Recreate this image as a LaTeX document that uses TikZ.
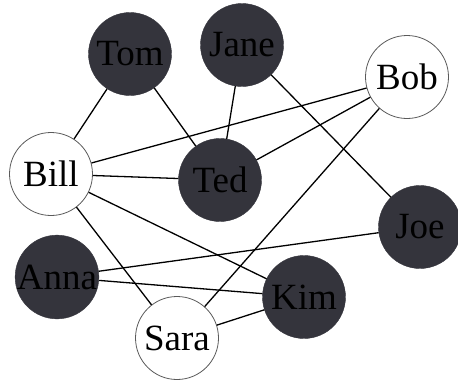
\documentclass[tikz,border=0pt]{standalone}
\usepackage{fontspec}
\setmainfont{Liberation Serif}
\definecolor{nodedark}{RGB}{52,52,60}
\definecolor{rimgrey}{RGB}{90,90,90}
\begin{document}
\begin{tikzpicture}[x=1pt,y=-1pt,
  person/.style={circle,minimum size=83pt,inner sep=0pt,font=\fontsize{37}{37}\selectfont},
  darkperson/.style={person,fill=nodedark,draw=nodedark},
  lightperson/.style={person,fill=white,draw=rimgrey,line width=0.8pt},
  tie/.style={line width=1.3pt,black}]
\useasboundingbox (0,0) rectangle (458,381);
% people
\node[darkperson]  (tom)  at (130,54)  {Tom};
\node[darkperson]  (jane) at (242,45)  {Jane};
\node[lightperson] (bob)  at (407,77)  {Bob};
\node[lightperson] (bill) at (51,174)  {Bill};
\node[darkperson]  (ted)  at (220,180) {Ted};
\node[darkperson]  (joe)  at (420,227) {Joe};
\node[darkperson]  (anna) at (57,277)  {Anna};
\node[darkperson]  (kim)  at (304,297) {Kim};
\node[lightperson] (sara) at (177,338) {Sara};
% ties between people
\draw[tie] (tom) -- (bill);
\draw[tie] (tom) -- (ted);
\draw[tie] (jane) -- (ted);
\draw[tie] (jane) -- (joe);
\draw[tie] (bob) -- (bill);
\draw[tie] (bob) -- (ted);
\draw[tie] (bob) -- (sara);
\draw[tie] (bill) -- (ted);
\draw[tie] (bill) -- (kim);
\draw[tie] (bill) -- (sara);
\draw[tie] (anna) -- (joe);
\draw[tie] (anna) -- (kim);
\draw[tie] (sara) -- (kim);
\end{tikzpicture}
\end{document}
